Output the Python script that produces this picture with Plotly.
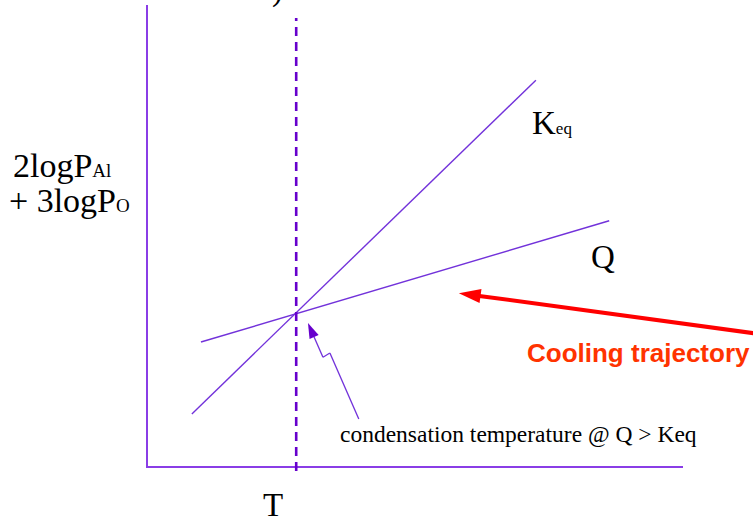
import plotly.graph_objects as go

# ---------------- data (schematic units: T axis 0..10, log-P axis 0..10) ----------------
keq_T = [0.82, 7.25]
keq_val = [1.13, 8.37]
q_T = [0.99, 8.62]
q_val = [2.69, 5.32]
cond_T = [2.77, 2.77]
cond_val = [-0.11, 9.72]
pointer_T = [3.94, 3.40, 3.27, 2.99]
pointer_val = [1.02, 2.45, 2.36, 3.10]
cooling_T = [11.45, 5.81]
cooling_val = [2.86, 3.75]

y_label_lines = ["2logP<span style='font-size:19px'>Al</span>",
                 "+ 3logP<span style='font-size:19px'>O</span>"]
keq_label = "K<span style='font-size:17px'>eq</span>"
q_label = "Q"
x_label = "T"
pointer_text = "condensation temperature @ Q &gt; Keq"
cooling_text = "Cooling trajectory"

# ---------------- layout geometry ----------------
W, H = 753, 517
AX_L, AX_R, AX_T, AX_B = 148, 683, 5, 466
X_MAX, Y_MAX = 10.0, 10.0
sx = (AX_R - AX_L) / X_MAX
sy = (AX_B - AX_T) / Y_MAX

PURPLE_AX = "#8A3DE6"
PURPLE = "#7232DA"
PURPLE_D = "#6600CC"
SERIF = "Liberation Serif, Times New Roman, serif"

fig = go.Figure()
fig.add_trace(go.Scatter(x=keq_T, y=keq_val, mode="lines",
                         line=dict(color=PURPLE, width=1.4), xaxis="x", yaxis="y"))
fig.add_trace(go.Scatter(x=q_T, y=q_val, mode="lines",
                         line=dict(color=PURPLE, width=1.4), xaxis="x", yaxis="y"))
fig.add_trace(go.Scatter(x=cond_T, y=cond_val, mode="lines",
                         line=dict(color=PURPLE_D, width=2.6, dash="9px,6px"),
                         xaxis="x2", yaxis="y2"))
fig.add_trace(go.Scatter(x=pointer_T, y=pointer_val, mode="lines+markers",
                         line=dict(color=PURPLE, width=1.3),
                         marker=dict(symbol="arrow", size=[0, 0, 0, 16], angleref="previous",
                                     color=PURPLE_D, opacity=1, line=dict(width=0)),
                         xaxis="x2", yaxis="y2"))
fig.add_trace(go.Scatter(x=cooling_T, y=cooling_val, mode="lines+markers",
                         line=dict(color="#FF0000", width=4),
                         marker=dict(symbol="arrow", size=[0, 23], angleref="previous",
                                     color="#FF0000", opacity=1, line=dict(width=0)),
                         xaxis="x2", yaxis="y2"))


def P(xp, yp):
    return xp / W, 1 - yp / H


annotations = []


def label(text, xp, yp, size, xanchor="left", color="#000000", family=SERIF, bold=False):
    x, y = P(xp, yp)
    annotations.append(dict(text=("<b>%s</b>" % text) if bold else text, x=x, y=y,
                            xref="paper", yref="paper", xanchor=xanchor, yanchor="middle",
                            showarrow=False, font=dict(size=size, color=color, family=family)))


label(y_label_lines[0], 11, 165, 34)
label(y_label_lines[1], 7, 200, 34)
label(keq_label, 530, 123, 33)
label(q_label, 603, 257, 33, xanchor="center")
label(x_label, 273, 505, 33, xanchor="center")
label(pointer_text, 338, 434, 23.5)
label(cooling_text, 525, 353, 26, color="#FF3300",
      family="Liberation Sans, Arial, sans-serif", bold=True)
label(")", 277, -11, 33, xanchor="center")

axis_common = dict(showticklabels=False, ticks="", showgrid=False, zeroline=False,
                   fixedrange=True)

fig.update_layout(
    width=W, height=H, autosize=False,
    margin=dict(l=0, r=0, t=0, b=0),
    paper_bgcolor="white", plot_bgcolor="rgba(0,0,0,0)",
    showlegend=False,
    xaxis=dict(domain=[AX_L / W, AX_R / W], range=[0, X_MAX], anchor="y",
               showline=True, linecolor=PURPLE_AX, linewidth=2, **axis_common),
    yaxis=dict(domain=[1 - AX_B / H, 1 - AX_T / H], range=[0, Y_MAX], anchor="x",
               showline=True, linecolor=PURPLE_AX, linewidth=2, **axis_common),
    xaxis2=dict(domain=[0, 1], range=[-AX_L / sx, (W - AX_L) / sx], anchor="y2",
                visible=False, **axis_common),
    yaxis2=dict(domain=[0, 1], range=[-(H - AX_B) / sy, AX_B / sy], anchor="x2",
                visible=False, **axis_common),
    annotations=annotations,
)

fig.write_html("out.html")
